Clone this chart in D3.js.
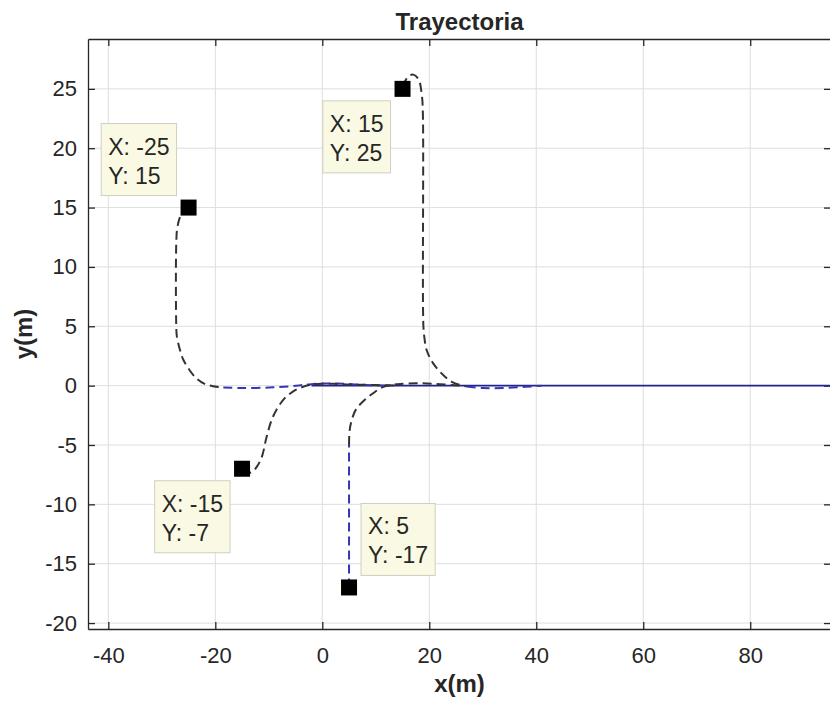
<!DOCTYPE html>
<html>
<head>
<meta charset="utf-8">
<script src="https://cdn.jsdelivr.net/npm/d3@7"></script>
<style>
  body { margin: 0; background: #fff; }
  svg text { font-family: "Liberation Sans", Arial, Helvetica, sans-serif; fill: #262626; }
</style>
</head>
<body>
<div id="chart"></div>
<script>
// axis limits and ticks
const xLimits = [-43.8, 95.1];
const yLimits = [-20.5, 29.2];
const xTicks = [-40, -20, 0, 20, 40, 60, 80];
const yTicks = [-20, -15, -10, -5, 0, 5, 10, 15, 20, 25];

// start points (data tips)
const startX = [-25, 15, -15, 5];
const startY = [15, 25, -7, -17];
const tipSide = ["ul", "dl", "dl", "ur"];

// trajectories, split where the line colour changes
const traj1Dark = [[-25, 15.1], [-26.4, 14.4], [-27.1, 13.3], [-27.3, 12], [-27.3, 5], [-27.2, 4.2], [-26.6, 3.0], [-26, 2.2], [-24.8, 1.3], [-23.5, 0.6], [-22, 0.15], [-20.4, -0.05], [-18.5, -0.15]];
const traj1Blue = [[-18.5, -0.15], [-15, -0.2], [-10, -0.16], [-6, -0.06], [-3, 0.08], [0, 0.18], [4, 0.15], [8, 0.06], [12, 0]];
const traj2Dark = [[-15, -7.3], [-13.2, -7.3], [-12.2, -6.8], [-11.3, -6.0], [-10.4, -4.3], [-9.2, -2.6], [-7.3, -1.2], [-5.5, -0.5], [-4.2, -0.2], [-2.5, 0.05], [-1, 0.14], [2, 0.15], [5, 0.1], [10, 0.05], [14, 0]];
const traj3Dark = [[15, 25.2], [16, 26], [17, 26.2], [18, 25.8], [18.6, 24.5], [18.8, 23], [18.9, 5], [19.1, 4], [19.5, 3.0], [20.7, 1.9], [22.6, 0.9], [24.5, 0.25], [27, -0.08]];
const traj3Blue = [[27, -0.08], [30, -0.2], [34, -0.2], [38, -0.1], [41, 0]];
const traj4Blue = [[5, -17], [5, -5]];
const traj4Dark = [[5, -5], [5.1, -3.8], [5.5, -2.9], [6.3, -2.0], [7.7, -1.3], [9.5, -0.64], [11.4, -0.1], [14, 0.12], [18, 0.2], [22, 0.12], [26, 0]];
const reference = [[-2, 0], [95.1, 0]];

const darkPaths = [traj1Dark, traj2Dark, traj3Dark, traj4Dark];
const bluePaths = [traj1Blue, traj3Blue, traj4Blue];

const width = 830, height = 701;
const margin = { left: 88, top: 39, right: 831, bottom: 629 };

const svg = d3.select("#chart").append("svg")
  .attr("width", width).attr("height", height)
  .attr("viewBox", `0 0 ${width} ${height}`);

const x = d3.scaleLinear().domain(xLimits).range([margin.left, margin.right]);
const y = d3.scaleLinear().domain(yLimits).range([margin.bottom, margin.top]);

// grid
svg.append("g").selectAll("line").data(xTicks).enter().append("line")
  .attr("x1", d => x(d)).attr("x2", d => x(d))
  .attr("y1", margin.top).attr("y2", margin.bottom)
  .attr("stroke", "#dedede").attr("stroke-width", 1);
svg.append("g").selectAll("line").data(yTicks).enter().append("line")
  .attr("x1", margin.left).attr("x2", margin.right)
  .attr("y1", d => y(d)).attr("y2", d => y(d))
  .attr("stroke", "#dedede").attr("stroke-width", 1);

// axes (ticks point inward, on all four sides)
const tickLen = 7;
const xAxis = svg.append("g").attr("transform", `translate(0,${margin.bottom})`)
  .call(d3.axisBottom(x).tickValues(xTicks).tickSizeInner(-tickLen).tickSizeOuter(0).tickPadding(18));
const xAxisTop = svg.append("g").attr("transform", `translate(0,${margin.top})`)
  .call(d3.axisTop(x).tickValues(xTicks).tickSizeInner(-tickLen).tickSizeOuter(0).tickFormat(""));
const yAxis = svg.append("g").attr("transform", `translate(${margin.left},0)`)
  .call(d3.axisLeft(y).tickValues(yTicks).tickSizeInner(-tickLen).tickSizeOuter(0).tickPadding(11));
const yAxisRight = svg.append("g").attr("transform", `translate(${margin.right},0)`)
  .call(d3.axisRight(y).tickValues(yTicks).tickSizeInner(-tickLen).tickSizeOuter(0).tickFormat(""));

[xAxis, xAxisTop, yAxis, yAxisRight].forEach(g => {
  g.select(".domain").attr("stroke", "#262626").attr("stroke-width", 1.3);
  g.selectAll(".tick line").attr("stroke", "#262626").attr("stroke-width", 1.3);
  g.selectAll(".tick text").attr("font-size", 22).attr("fill", "#262626")
    .style("font-family", "'Liberation Sans', Arial, sans-serif");
});
xAxis.selectAll(".tick text").text(d => d < 0 ? "-" + Math.abs(d) : d);
yAxis.selectAll(".tick text").text(d => d < 0 ? "-" + Math.abs(d) : d);

// lines
const lineX = d3.line().x(d => x(d[0])).y(d => y(d[1])).curve(d3.curveCatmullRom);

const plot = svg.append("g");
plot.append("path").datum(reference)
  .attr("d", lineX).attr("fill", "none")
  .attr("stroke", "#24248f").attr("stroke-width", 1.8);

plot.selectAll(".blue").data(bluePaths).enter().append("path")
  .attr("class", "blue")
  .attr("d", lineX).attr("fill", "none")
  .attr("stroke", "#3535b5").attr("stroke-width", 2)
  .attr("stroke-dasharray", "9,5");

plot.selectAll(".dark").data(darkPaths).enter().append("path")
  .attr("class", "dark")
  .attr("d", lineX).attr("fill", "none")
  .attr("stroke", "#333333").attr("stroke-width", 2)
  .attr("stroke-dasharray", "9,5");

// start markers
const starts = startX.map((v, i) => ({ x: v, y: startY[i], side: tipSide[i] }));
const mSize = 16;
plot.selectAll(".marker").data(starts).enter().append("rect")
  .attr("class", "marker")
  .attr("x", d => x(d.x) - mSize / 2).attr("y", d => y(d.y) - mSize / 2)
  .attr("width", mSize).attr("height", mSize)
  .attr("fill", "#000");

// data tips
const tipFont = 23, tipPad = 7, tipLine = 29, tipOff = 12;
const tips = svg.append("g");
starts.forEach(d => {
  const g = tips.append("g");
  const lines = ["X: " + d.x, "Y: " + d.y];
  const texts = lines.map((t, i) => g.append("text")
    .attr("font-size", tipFont).attr("fill", "#1a1a1a")
    .attr("y", 31 + i * tipLine).attr("x", tipPad).text(t));
  const w = d3.max(texts, t => t.node().getComputedTextLength()) + tipPad * 2;
  const h = 72;
  g.insert("rect", "text").attr("width", w).attr("height", h)
    .attr("fill", "#fafae4").attr("stroke", "#cfcfc0").attr("stroke-width", 1);
  const px = x(d.x), py = y(d.y);
  const left = d.side[1] === "l" ? px - tipOff - w : px + tipOff;
  const top = d.side[0] === "u" ? py - tipOff - h : py + tipOff;
  g.attr("transform", `translate(${left},${top})`);
});

// title and labels
svg.append("text").attr("x", (margin.left + margin.right) / 2).attr("y", 30)
  .attr("text-anchor", "middle").attr("font-size", 24).attr("font-weight", "bold")
  .attr("fill", "#000").text("Trayectoria");
svg.append("text").attr("x", (margin.left + margin.right) / 2).attr("y", 692)
  .attr("text-anchor", "middle").attr("font-size", 24).attr("font-weight", "bold")
  .attr("fill", "#262626").text("x(m)");
svg.append("text")
  .attr("transform", `translate(32,${(margin.top + margin.bottom) / 2}) rotate(-90)`)
  .attr("text-anchor", "middle").attr("font-size", 24).attr("font-weight", "bold")
  .attr("fill", "#262626").text("y(m)");
</script>
</body>
</html>
